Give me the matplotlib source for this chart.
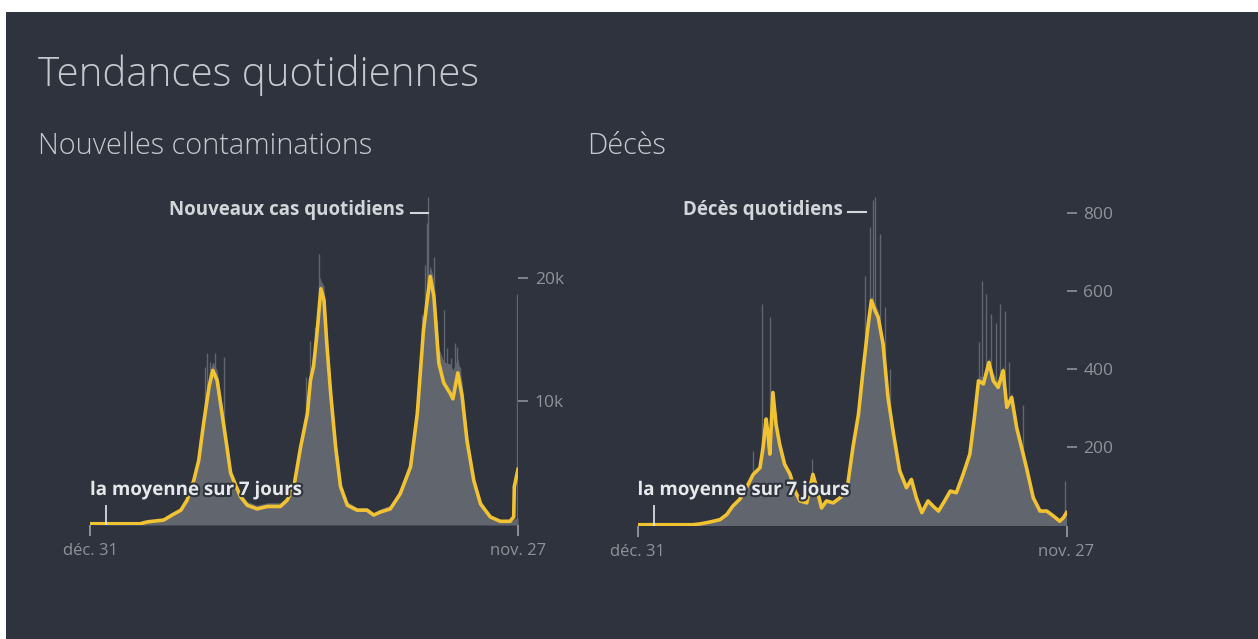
import matplotlib
matplotlib.use('Agg')
import matplotlib.pyplot as plt
import matplotlib.patheffects as pe
from matplotlib.patches import Rectangle

# Jours depuis le 31 déc. (0 = déc. 31, 697 = nov. 27)
case_days = [0, 82, 93, 120, 137, 148, 158, 169, 177, 185, 194, 200, 207, 215, 223, 229, 234, 245, 256, 272,
             289, 310, 321, 332, 343, 354, 359, 364, 370, 376, 381, 386, 392, 400, 408, 419, 435, 451, 462, 473,
             489, 505, 522, 533, 543, 554, 560, 568, 576, 587, 591, 599, 606, 614, 625, 636, 652, 668, 684, 690,
             691, 697]
# moyenne sur 7 jours (milliers)
case_avg = [0.1, 0.1, 0.25, 0.4, 0.9, 1.2, 2.0, 3.6, 5.2, 8.2, 11.2, 12.5, 11.7, 9.0, 6.3, 4.2, 3.6, 2.3, 1.6, 1.3,
            1.5, 1.5, 2.0, 3.1, 6.3, 9.0, 11.7, 12.8, 15.7, 19.1, 18.2, 14.4, 10.6, 6.3, 3.1, 1.6, 1.2, 1.2, 0.8, 1.05,
            1.3, 2.5, 4.7, 9.0, 15.7, 20.1, 18.5, 13.1, 11.5, 10.6, 10.2, 12.3, 10.4, 6.8, 3.6, 1.7, 0.65, 0.3, 0.3, 0.65,
            3.1, 4.5]
# cas quotidiens (milliers)
case_bars = [0, 0.1, 0.2, 0.5, 1.0, 1.4, 2.3, 4.0, 5.8, 9.0, 12.3, 13.2, 12.5, 9.8, 6.9, 4.6, 3.9, 2.6, 1.9, 1.6,
             1.8, 1.8, 2.3, 3.5, 6.9, 9.9, 12.6, 14.0, 16.8, 19.8, 19.3, 15.5, 11.5, 7.0, 3.5, 1.9, 1.4, 1.4, 1.0, 1.3,
             1.6, 2.9, 5.3, 10.0, 16.8, 21.0, 19.8, 14.3, 13.2, 13.0, 12.5, 13.5, 11.5, 7.5, 4.0, 2.0, 0.8, 0.4, 0.4, 0.4,
             0.5, 0.6]
case_spike_days = [188, 191, 196, 204, 218, 352, 359, 366, 373, 375, 540, 546, 549, 551, 556, 560, 565, 576, 581, 588, 595, 598, 603, 695]
case_spike_vals = [12.8, 13.9, 13.2, 13.9, 13.6, 12.0, 14.9, 16.0, 21.9, 20.0, 17.0, 21.0, 24.4, 26.5, 20.5, 21.7, 16.5, 17.4, 14.3, 13.5, 14.7, 14.4, 12.8, 18.7]

death_days = [0, 90, 101, 118, 134, 145, 155, 166, 177, 188, 199, 204, 209, 212, 215, 220, 225, 231, 239, 248,
              256, 264, 275, 285, 291, 299, 307, 318, 329, 340, 350, 359, 367, 375, 380, 386, 391, 399, 407, 416,
              426, 437, 445, 453, 462, 472, 480, 489, 499, 508, 518, 529, 540, 548, 554, 562, 571, 578, 586, 594,
              600, 608, 616, 624, 632, 643, 654, 665, 676, 686, 692, 697]
death_avg = [2, 2, 4, 9, 15, 28, 50, 67, 97, 131, 148, 200, 273, 234, 183, 341, 260, 208, 157, 131,
             88, 63, 58, 131, 97, 45, 63, 58, 71, 88, 200, 285, 405, 517, 577, 551, 534, 465, 328, 234,
             140, 97, 118, 71, 33, 63, 50, 37, 63, 88, 84, 131, 183, 285, 371, 363, 418, 371, 354, 397,
             303, 328, 251, 200, 148, 71, 37, 37, 24, 11, 20, 33]
death_bars = [0, 1, 3, 8, 14, 26, 48, 66, 100, 135, 150, 190, 250, 225, 185, 300, 250, 205, 160, 130,
              90, 68, 62, 125, 100, 55, 65, 62, 75, 95, 210, 300, 420, 530, 590, 570, 550, 480, 340, 245,
              150, 105, 120, 78, 40, 65, 55, 42, 68, 95, 90, 140, 195, 300, 385, 380, 430, 390, 370, 410,
              320, 340, 265, 210, 155, 78, 42, 40, 28, 15, 22, 30]
death_spike_days = [188, 203, 216, 225, 283, 370, 378, 383, 386, 394, 402, 410, 555, 559, 567, 575, 582, 589, 597, 604, 626, 694]
death_spike_vals = [190, 568, 534, 290, 170, 640, 765, 834, 843, 748, 560, 400, 470, 628, 594, 543, 520, 568, 551, 420, 310, 114]

BG = '#2e333d'
FILL = '#61656d'
YELLOW = '#f1c232'
GREY_TXT = '#8e939a'
LIGHT_TXT = '#d2d6da'

W, H = 1258, 639
fig = plt.figure(figsize=(W / 100, H / 100), dpi=100, facecolor='white')
fig.patches.append(Rectangle((6 / W, 0), 1 - 6 / W, 1 - 12 / H, transform=fig.transFigure,
                             facecolor=BG, edgecolor='none', zorder=-10))

font = 'Open Sans'


def px_axes(left, right, bottom, top):
    ax = fig.add_axes([left / W, 1 - bottom / H, (right - left) / W, (bottom - top) / H])
    ax.set_zorder(2)
    return ax


def fig_text(x, y, s, **kw):
    fig.text(x / W, 1 - y / H, s, family=font, **kw)


fig_text(38, 75, 'Tendances quotidiennes', fontsize=29, color='#c4c9ce', va='center', weight='light')
fig_text(38, 146, 'Nouvelles contaminations', fontsize=20.8, color='#c4c9ce', va='center', weight='light')
fig_text(587, 146, 'Décès', fontsize=20.8, color='#c4c9ce', va='center', weight='light')


def panel(ax, days, avg, bars, sdays, svals, ymax, yticks, ylabels, label, lab_pos, dash, avg_pos, tick_top):
    ax.set_facecolor('none')
    ax.fill_between(days, 0, bars, color=FILL, lw=0, zorder=1)
    ax.vlines(sdays, 0, svals, color=FILL, lw=1.0, zorder=1)
    ax.plot(days, avg, color=YELLOW, lw=2.6, zorder=3, solid_joinstyle='round')
    ax.set_xlim(0, 697)
    ax.set_ylim(0, ymax)
    for s in ax.spines.values():
        s.set_visible(False)
    ax.set_xticks([0, 697])
    ax.set_xticklabels(['déc. 31', 'nov. 27'], family=font, fontsize=12, color=GREY_TXT)
    ax.tick_params(axis='x', length=8, width=1.2, color='#9a9ea4', pad=5)
    ax.yaxis.tick_right()
    ax.set_yticks(yticks)
    ax.set_yticklabels(ylabels, family=font, fontsize=12.5, color=GREY_TXT)
    ax.tick_params(axis='y', length=7, width=1.2, color=GREY_TXT, pad=5)
    ax.text(lab_pos[0], lab_pos[1], label, ha='right', va='center', family=font, weight='bold',
            fontsize=13.5, color=LIGHT_TXT, clip_on=False)
    ax.plot(dash[0], dash[1], color=LIGHT_TXT, lw=1.5, clip_on=False)
    ax.text(avg_pos[0], avg_pos[1], 'la moyenne sur 7 jours', ha='left', va='center', family=font,
            weight='bold', fontsize=13.5, color='#e6e8ea', zorder=5,
            path_effects=[pe.withStroke(linewidth=3, foreground=BG)])
    ax.vlines([avg_pos[2]], 0, tick_top, color='#e6e8ea', lw=1.2, zorder=4)


ax1 = px_axes(90, 518, 525, 190)
panel(ax1, case_days, [v * 1000 for v in case_avg], [v * 1000 for v in case_bars],
      case_spike_days, [v * 1000 for v in case_spike_vals],
      335 / 12.37 * 1000, [10000, 20000], ['10k', '20k'],
      'Nouveaux cas quotidiens', (512, 25500), ([522, 550], [25200, 25200]), (0, 2830, 26), 1600)

ax2 = px_axes(637.5, 1066.5, 525.5, 190)
panel(ax2, death_days, death_avg, death_bars, death_spike_days, death_spike_vals,
      335.5 * 2.564, [200, 400, 600, 800], ['200', '400', '600', '800'],
      'Décès quotidiens', (333, 809), ([342, 371], [803, 803]), (0, 91, 27), 53)

plt.savefig('out.png', dpi=100, facecolor='white')
plt.close()
